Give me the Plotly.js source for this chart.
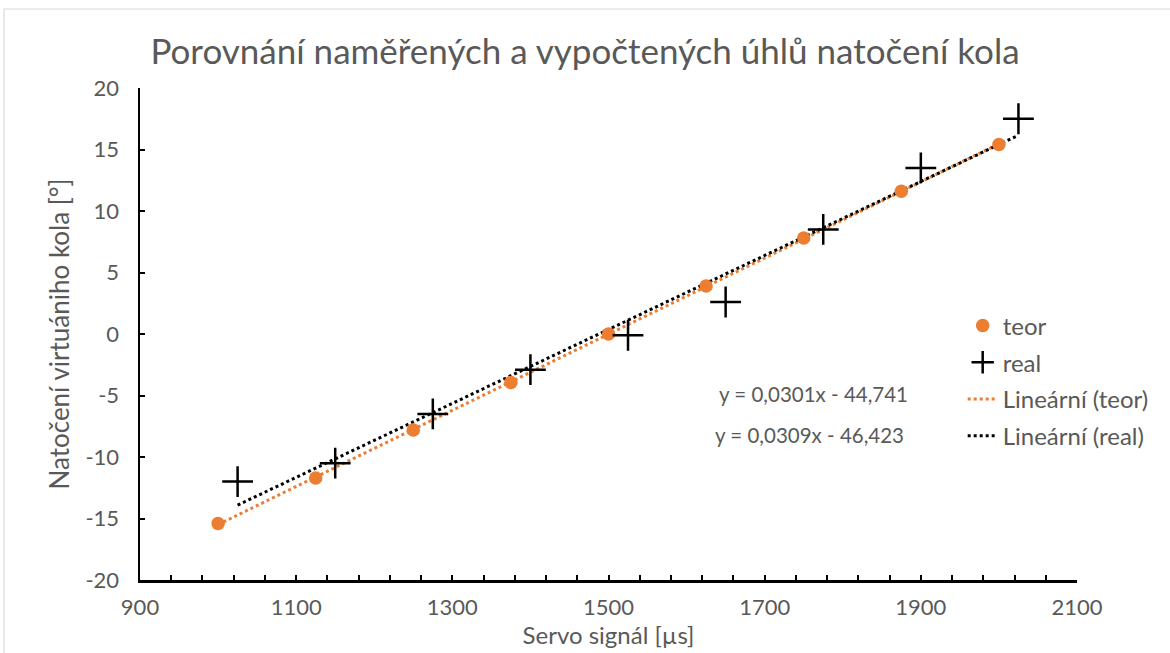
<!DOCTYPE html>
<html>
<head>
<meta charset="utf-8">
<script src="https://cdn.plot.ly/plotly-3.0.1.min.js"></script>
<style>
  html, body { margin: 0; padding: 0; background: #fff; }
  #chart { width: 1170px; height: 653px; }
</style>
</head>
<body>
<div id="chart"></div>
<script>
// ---- data ----
const teorX = [1000, 1125, 1250, 1375, 1500, 1625, 1750, 1875, 2000];
const teorY = [-15.4, -11.7, -7.8, -3.95, 0, 3.9, 7.8, 11.6, 15.4];
const realX = [1025, 1150, 1275, 1400, 1525, 1650, 1775, 1900, 2025];
const realY = [-12.0, -10.5, -6.5, -2.9, -0.1, 2.6, 8.5, 13.5, 17.5];
const yTickVals = [-20, -15, -10, -5, 0, 5, 10, 15, 20];
const yTickLabels = ["-20", "-15", "-10", "-5", "0", "5", "10", "15", "20"];
const xTickVals = [900, 1100, 1300, 1500, 1700, 1900, 2100];
const xTickLabels = ["900", "1100", "1300", "1500", "1700", "1900", "2100"];
const equationTexts = ["y = 0,0301x - 44,741", "y = 0,0309x - 46,423"];
const titleText = "Porovnání naměřených a vypočtených úhlů natočení kola";
const xTitle = "Servo signál [µs]";
const yTitle = "Natočení virtuániho kola [°]";

function fit(xs, ys) {
  const n = xs.length;
  const mx = xs.reduce((a, b) => a + b, 0) / n;
  const my = ys.reduce((a, b) => a + b, 0) / n;
  let sxy = 0, sxx = 0;
  for (let i = 0; i < n; i++) { sxy += (xs[i] - mx) * (ys[i] - my); sxx += (xs[i] - mx) ** 2; }
  const k = sxy / sxx, q = my - k * mx;
  const x0 = Math.min(...xs), x1 = Math.max(...xs);
  return { x: [x0, x1], y: [k * x0 + q, k * x1 + q] };
}
const fTeor = fit(teorX, teorY);
const fReal = fit(realX, realY);

const ORANGE = '#ED7D31';
const GRAY = '#595959';
const FONT = 'Lato, "Open Sans", sans-serif';

const traces = [
  { x: fTeor.x, y: fTeor.y, mode: 'lines', name: 'Lineární (teor)', legendrank: 3, legendgroup: 'c',
    line: { color: ORANGE, width: 3, dash: 'dot' }, hoverinfo: 'skip' },
  { x: fReal.x, y: fReal.y, mode: 'lines', name: 'Lineární (real)', legendrank: 4, legendgroup: 'd',
    line: { color: '#000', width: 3, dash: 'dot' }, hoverinfo: 'skip' },
  { x: teorX, y: teorY, mode: 'markers', name: 'teor', legendrank: 1, legendgroup: 'a',
    marker: { color: ORANGE, size: 13.5, symbol: 'circle' } },
  { x: realX, y: realY, mode: 'markers', name: 'real', legendrank: 2, legendgroup: 'b',
    marker: { color: '#000', size: 22, symbol: 'cross-thin', line: { color: '#000', width: 2.5 } } }
];

const layout = {
  width: 1170, height: 653,
  margin: { l: 140, r: 93, t: 88, b: 73 },
  paper_bgcolor: '#fff', plot_bgcolor: '#fff',
  font: { family: FONT, color: GRAY, size: 22 },
  title: { text: titleText, font: { family: FONT, size: 35, color: GRAY }, x: 0.5, xanchor: 'center', y: 0.92, yanchor: 'middle' },
  showlegend: true,
  legend: { x: 0.878, y: 0.562, xanchor: 'left', yanchor: 'top', bgcolor: 'rgba(0,0,0,0)',
            font: { family: FONT, size: 24, color: GRAY }, tracegroupgap: 2.5, traceorder: 'grouped' },
  xaxis: {
    range: [900, 2100], tickmode: 'array', tickvals: xTickVals, ticktext: xTickLabels,
    showgrid: false, zeroline: false,
    showline: true, linecolor: '#000', linewidth: 2.5, mirror: false,
    ticks: 'inside', ticklen: 5, tickwidth: 2, tickcolor: '#000',
    minor: { dtick: 40, tick0: 900, ticks: 'inside', ticklen: 5, tickwidth: 2, tickcolor: '#000', showgrid: false },
    ticklabelstandoff: 6,
    tickfont: { family: FONT, size: 22, color: GRAY },
    title: { text: xTitle, font: { family: FONT, size: 24, color: GRAY }, standoff: 4 },
    fixedrange: true
  },
  yaxis: {
    range: [-20, 20], tickmode: 'array', tickvals: yTickVals, ticktext: yTickLabels,
    showgrid: false, zeroline: false,
    showline: true, linecolor: '#000', linewidth: 2.5,
    ticks: 'inside', ticklen: 5, tickwidth: 2, tickcolor: '#000',
    ticklabelstandoff: 14,
    tickfont: { family: FONT, size: 22, color: GRAY },
    title: { text: yTitle, font: { family: FONT, size: 26, color: GRAY }, standoff: 9 },
    fixedrange: true
  },
  annotations: [
    { x: 1762, y: -4.9, xref: 'x', yref: 'y', text: equationTexts[0], showarrow: false,
      font: { family: FONT, size: 20.5, color: GRAY } },
    { x: 1757, y: -8.2, xref: 'x', yref: 'y', text: equationTexts[1], showarrow: false,
      font: { family: FONT, size: 20.5, color: GRAY } }
  ],
  shapes: [
    { type: 'rect', xref: 'paper', yref: 'paper', x0: -0.1451, x1: 1.3, y0: -0.3, y1: 1.1606,
      line: { color: '#D9D9D9', width: 1.2 }, fillcolor: 'rgba(0,0,0,0)', layer: 'below' }
  ]
};

Plotly.newPlot('chart', traces, layout, { displayModeBar: false, staticPlot: true });
</script>
</body>
</html>
